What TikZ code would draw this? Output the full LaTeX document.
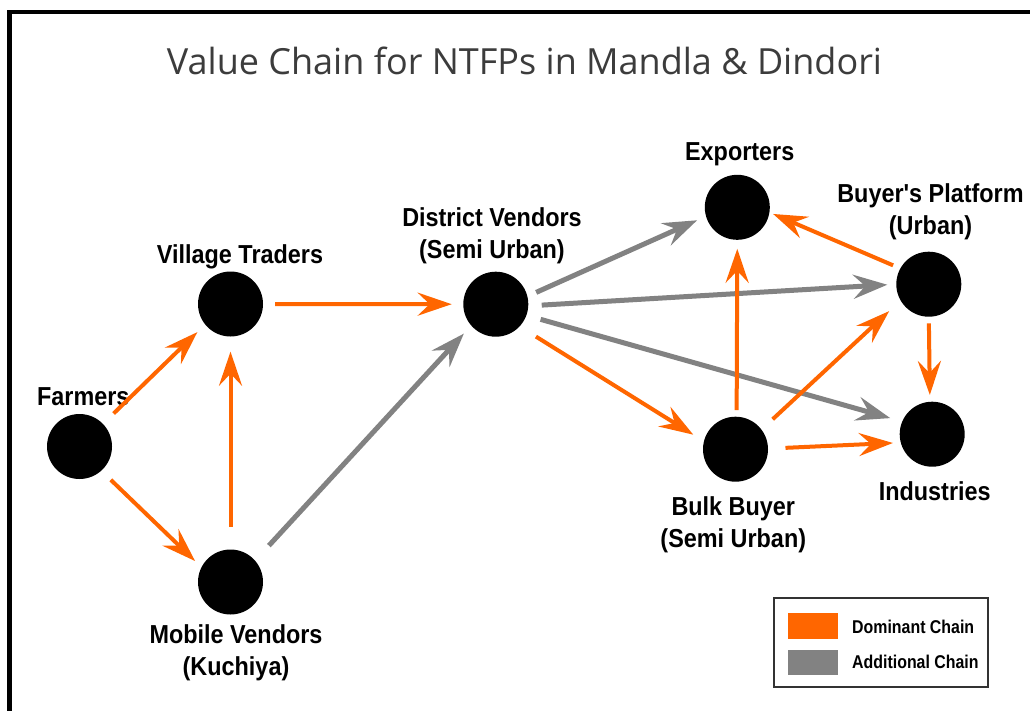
\documentclass[tikz,border=0pt]{standalone}
\usepackage{fontspec}
\setmainfont{Liberation Sans}
\newfontfamily\labfont[FakeStretch=0.9]{Liberation Sans}
\newfontfamily\legfont[FakeStretch=0.86]{Liberation Sans}
\newfontfamily\titlefont{Open Sans}
\usetikzlibrary{arrows.meta,calc}
\definecolor{domc}{HTML}{FF6600}
\definecolor{addc}{HTML}{828282}
\definecolor{ttl}{HTML}{3C3C3C}
\begin{document}
\begin{tikzpicture}[x=1pt,y=-1pt,
  dot/.style={circle,fill=black,minimum size=65pt,inner sep=0pt,outer sep=0pt},
  lab/.style={font=\labfont\bfseries\fontsize{26}{32}\selectfont,align=center,inner sep=0pt,anchor=base},
  legtext/.style={font=\legfont\bfseries\fontsize{18.5}{22}\selectfont,inner sep=0pt,anchor=base west},
  domarrow/.style={draw=domc,line width=4pt,-{Stealth[length=34pt,width=23pt,inset=12pt]}},
  addarrow/.style={draw=addc,line width=5pt,-{Stealth[length=34pt,width=24pt,inset=12pt]}},
  swatch/.style={inner sep=0pt,minimum width=50pt,minimum height=26pt}
]
\useasboundingbox (0,0) rectangle (1030,710);
\clip (0,0) rectangle (1030,710);
\fill[white] (0,0) rectangle (1030,710);
\draw[line width=4.3pt,line join=miter] (9.5,12) rectangle (1090,770);

\node[font=\titlefont\fontsize{36}{40}\selectfont,text=ttl,anchor=base,inner sep=0pt] (title) at (524.5,74) {Value Chain for NTFPs in Mandla \& Dindori};

% nodes
\node[dot] (farm) at (79.5,446.5) {};
\node[dot] (vt) at (230.5,304) {};
\node[dot] (mv) at (230.5,582) {};
\node[dot] (dv) at (495.8,304.2) {};
\node[dot] (exp) at (737.3,207.3) {};
\node[dot] (bp) at (928.8,284.2) {};
\node[dot] (ind) at (932.2,434.2) {};
\node[dot] (bb) at (735.5,449.2) {};

% labels (base = baseline of last line)
\node[lab] (farmL) at (83.3,405) {Farmers};
\node[lab] (vtL) at (240,263) {Village Traders};
\node[lab] (mvL) at (236,675) {Mobile Vendors\\(Kuchiya)};
\node[lab] (dvL) at (492,258.5) {District Vendors\\(Semi Urban)};
\node[lab] (expL) at (739.7,160.7) {Exporters};
\node[lab] (bpL) at (930.5,234) {Buyer's Platform\\(Urban)};
\node[lab] (indL) at (934.7,500) {Industries};
\node[lab] (bbL) at (733.3,547) {Bulk Buyer\\(Semi Urban)};

% additional chain
\draw[addarrow,shorten <=20.5pt,shorten >=11pt] (mv.41.8) -- (dv.221.8);
\draw[addarrow,shorten <=9.7pt,shorten >=9.8pt] (dv.14) -- (exp.196.5);
\draw[addarrow,shorten <=13.5pt,shorten >=9pt] (dv.-3.1) -- (bp.180);
\draw[addarrow,shorten <=14.8pt,shorten >=12.5pt] (dv.-20.8) -- (ind.157);

% dominant chain
\draw[domarrow,shorten <=15pt,shorten >=11pt] (farm.44.5) -- (vt.219.3);
\draw[domarrow,shorten <=13.3pt,shorten >=9pt] (farm.-48.3) -- (mv.153.3);
\draw[domarrow,shorten <=22.8pt,shorten >=15.2pt] (mv.90) -- (vt.270);
\draw[domarrow,shorten <=12pt,shorten >=11.6pt] (vt.0) -- (dv.180);
\draw[domarrow,shorten <=19.3pt,shorten >=12.6pt] (dv.-43.7) -- (bb.166);
\draw[domarrow,shorten <=6.7pt,shorten >=9pt] (bb.88) -- (exp.270);
\draw[domarrow,shorten <=15.3pt,shorten >=15.7pt] (bb.37.7) -- (bp.210);
\draw[domarrow,shorten <=17.5pt,shorten >=7.9pt] (bb.1) -- (ind.195.5);
\draw[domarrow,shorten <=7.9pt,shorten >=4pt] (bp.151.6) -- (exp.-9.5);
\draw[domarrow,shorten <=6.6pt,shorten >=6.8pt] (bp.270) -- (ind.94);

% legend
\node[draw=black!80,line width=1.3pt,minimum width=214pt,minimum height=89pt,inner sep=0pt] (legbox) at (881,642.5) {};
\node[swatch,fill=domc] (swd) at (813,626) {};
\node[swatch,fill=addc,minimum height=25pt] (swa) at (813,662.5) {};
\node[legtext] (ld) at (852,633.3) {Dominant Chain};
\node[legtext] (la) at (852,668.3) {Additional Chain};
\end{tikzpicture}
\end{document}
